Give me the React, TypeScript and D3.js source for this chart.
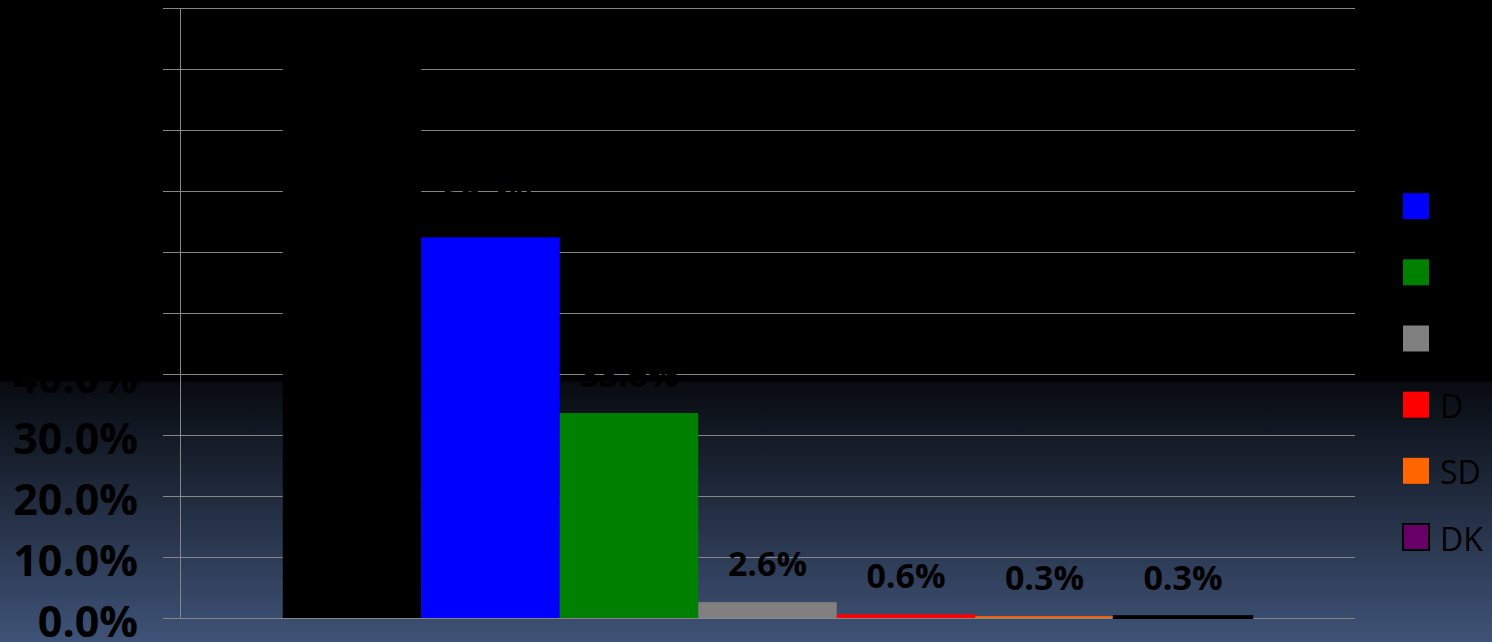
import React, { useEffect, useRef } from "react";
import * as d3 from "d3";

const seriesNames = ["SA+A", "SA", "A", "N", "D", "SD", "DK"];
const seriesValues = [96.0, 62.4, 33.6, 2.6, 0.6, 0.3, 0.3];
const seriesColors = ["#000000", "#0000ff", "#008000", "#808080", "#ff0000", "#ff6600", "#660066"];
const seriesStrokes = ["none", "none", "none", "none", "none", "none", "#000000"];
const yTickValues = [0, 10, 20, 30, 40, 50, 60, 70, 80, 90, 100];
const categories = [""];

const W = 1492;
const H = 642;

export default function App() {
  const ref = useRef<SVGSVGElement | null>(null);

  useEffect(() => {
    document.body.style.margin = "0";
    const svg = d3.select(ref.current);
    svg.selectAll("*").remove();

    const defs = svg.append("defs");
    const grad = defs
      .append("linearGradient")
      .attr("id", "bg")
      .attr("x1", 0)
      .attr("y1", 0)
      .attr("x2", 0)
      .attr("y2", 1);
    grad.append("stop").attr("offset", "0").attr("stop-color", "#000000");
    grad.append("stop").attr("offset", "0.592").attr("stop-color", "#000000");
    grad.append("stop").attr("offset", "0.596").attr("stop-color", "#080b10");
    grad.append("stop").attr("offset", "1").attr("stop-color", "#3f5377");

    svg.append("rect").attr("x", 0).attr("y", 0).attr("width", W).attr("height", H).attr("fill", "url(#bg)");

    const x0 = 180;
    const x1 = 1355;
    const yScale = d3.scaleLinear().domain([0, 100]).range([618, 8]);
    const outer = d3.scaleBand<string>().domain(categories).range([x0, x1]).paddingInner(0).paddingOuter(0.106);
    const inner = d3
      .scaleBand<string>()
      .domain(seriesNames)
      .range([0, outer.bandwidth()])
      .padding(0);

    const grid = "#868686";
    // gridlines + ticks
    const g = svg.append("g");
    g.selectAll("line.grid")
      .data(yTickValues)
      .join("line")
      .attr("x1", 163)
      .attr("x2", x1)
      .attr("y1", (d) => Math.round(yScale(d)) + 0.5)
      .attr("y2", (d) => Math.round(yScale(d)) + 0.5)
      .attr("stroke", grid)
      .attr("stroke-width", 1);
    g.append("line")
      .attr("x1", x0 + 0.5)
      .attr("x2", x0 + 0.5)
      .attr("y1", yScale(100))
      .attr("y2", yScale(0) + 0.5)
      .attr("stroke", grid)
      .attr("stroke-width", 1);

    // y labels
    svg
      .append("g")
      .selectAll("text")
      .data(yTickValues)
      .join("text")
      .attr("x", 138)
      .attr("y", (d) => yScale(d) + 2)
      .attr("text-anchor", "end")
      .attr("dominant-baseline", "central")
      .attr("font-family", "'Open Sans', sans-serif")
      .attr("font-weight", 700)
      .attr("font-size", 43)
      .attr("fill", "#000")
      .text((d) => d3.format(".1f")(d) + "%");

    // bars
    const cat = categories[0];
    const bx = outer(cat) as number;
    const bars = svg.append("g");
    bars
      .selectAll("rect")
      .data(seriesNames)
      .join("rect")
      .attr("x", (d) => bx + (inner(d) as number))
      .attr("width", inner.bandwidth())
      .attr("y", (d, i) => yScale(seriesValues[i]))
      .attr("height", (d, i) => yScale(0) - yScale(seriesValues[i]))
      .attr("fill", (d, i) => seriesColors[i])
      .attr("stroke", (d, i) => seriesStrokes[i])
      .attr("stroke-width", 2);

    // labels
    svg
      .append("g")
      .selectAll("text")
      .data(seriesNames)
      .join("text")
      .attr("x", (d) => bx + (inner(d) as number) + inner.bandwidth() / 2)
      .attr("y", (d, i) => yScale(seriesValues[i]) - 26)
      .attr("text-anchor", "middle")
      .attr("font-family", "'Open Sans', sans-serif")
      .attr("font-weight", 700)
      .attr("font-size", 34)
      .attr("fill", "#000")
      .text((d, i) => d3.format(".1f")(seriesValues[i]) + "%");

    // legend
    const legendY = d3.scalePoint<string>().domain(seriesNames).range([140, 537]);
    const lg = svg.append("g");
    const items = lg
      .selectAll("g")
      .data(seriesNames)
      .join("g")
      .attr("transform", (d) => `translate(1403,${legendY(d)})`);
    items
      .append("rect")
      .attr("x", 0)
      .attr("y", -13)
      .attr("width", 26)
      .attr("height", 26)
      .attr("fill", (d, i) => seriesColors[i])
      .attr("stroke", (d, i) => seriesStrokes[i])
      .attr("stroke-width", 2);
    items
      .append("text")
      .attr("x", 37)
      .attr("y", 1)
      .attr("dominant-baseline", "central")
      .attr("font-family", "'Open Sans', sans-serif")
      .attr("font-size", 32)
      .attr("fill", "#000")
      .text((d) => d);
  }, []);

  return (
    <svg
      ref={ref}
      width={W}
      height={H}
      style={{ position: "absolute", left: 0, top: 0, display: "block" }}
    />
  );
}
